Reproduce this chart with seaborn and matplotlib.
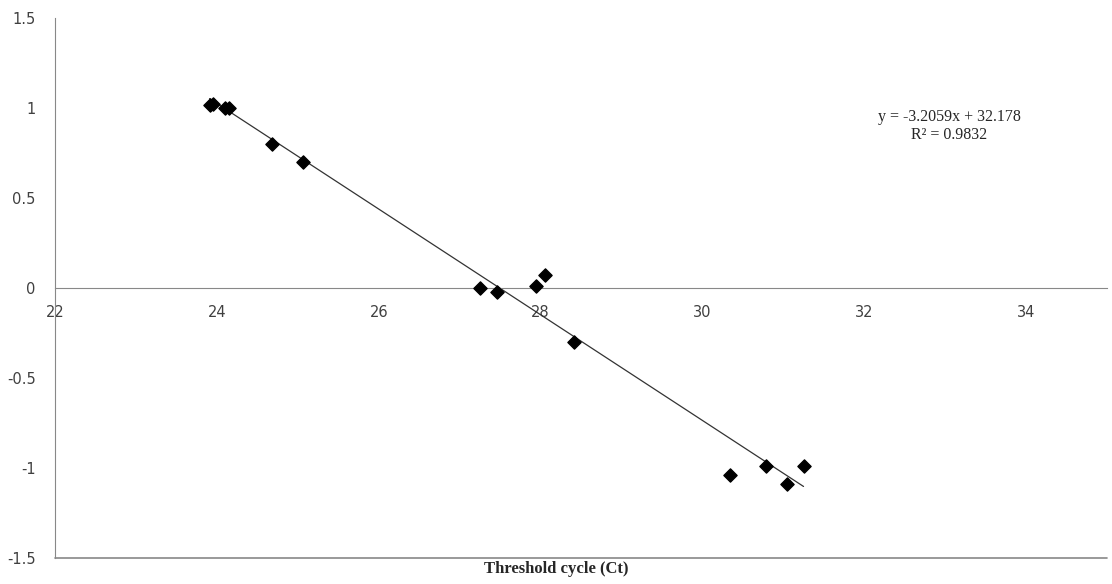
import numpy as np
import pandas as pd
import matplotlib
matplotlib.use("Agg")
import matplotlib.pyplot as plt
import seaborn as sns

ct = [23.91, 23.95, 24.10, 24.15, 24.68, 25.06, 27.25, 27.46, 27.94, 28.05,
      28.41, 30.34, 30.78, 31.04, 31.25]
log_val = [1.017, 1.02, 1.0, 1.0, 0.80, 0.70, 0.0, -0.02, 0.01, 0.07,
           -0.30, -1.04, -0.99, -1.09, -0.99]
data = pd.DataFrame({"ct": ct, "log_val": log_val})

sns.set_style("white")
fig = plt.figure(figsize=(11.12, 5.84), dpi=100)
ax = fig.add_axes([55 / 1112, 26 / 584, 1052 / 1112, 540 / 584])

sns.regplot(data=data, x="ct", y="log_val", ci=None, ax=ax,
            marker="D", scatter_kws={"color": "black", "s": 45, "alpha": 1, "zorder": 3},
            line_kws={"color": "#333333", "lw": 0.9})

ax.set_xlim(22, 35)
ax.set_ylim(-1.5, 1.5)
ax.set_xticks(np.arange(22, 35, 2))
ax.set_yticks([-1.5, -1, -0.5, 0, 0.5, 1, 1.5])
ax.set_yticklabels(["-1.5", "-1", "-0.5", "0", "0.5", "1", "1.5"])
ax.spines["top"].set_visible(False)
ax.spines["right"].set_visible(False)
ax.spines["bottom"].set_position(("data", 0))
for s in ("left", "bottom"):
    ax.spines[s].set_color("#888888")
ax.axhline(-1.5, color="#888888", lw=1.2, clip_on=False)
ax.tick_params(axis="both", length=0, labelsize=10.5, colors="#404040")
ax.tick_params(axis="x", pad=12)
ax.tick_params(axis="y", pad=14)
ax.set_xlabel("")
ax.set_ylabel("")
fig.text(0.5, 0.012, "Threshold cycle (Ct)", ha="center", va="bottom",
         fontsize=12, fontweight="bold", family="Liberation Serif")
ax.text(33.05, 0.9, "y = -3.2059x + 32.178\nR² = 0.9832", ha="center",
        va="center", fontsize=11.5, family="Liberation Serif", linespacing=1.2)

fig.savefig("out.png", dpi=100)
